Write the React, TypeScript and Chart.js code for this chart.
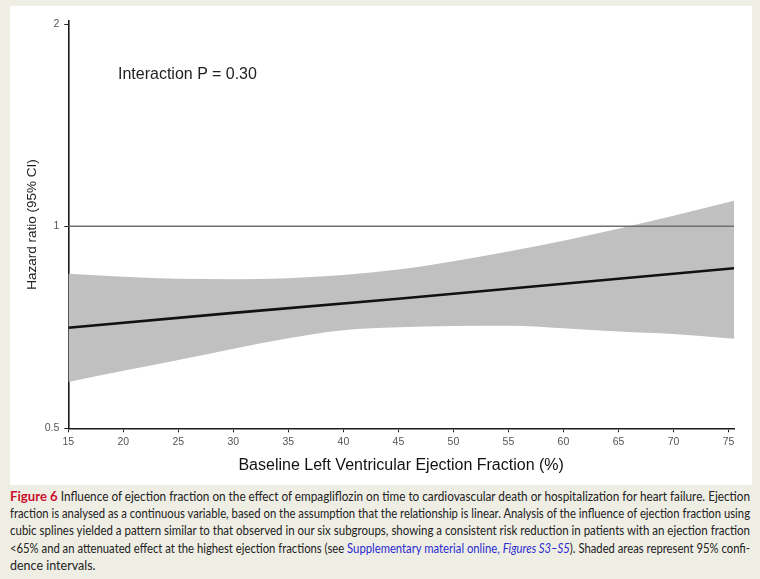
import React, { useEffect, useLayoutEffect, useRef } from 'react';
import { Chart, registerables } from 'chart.js';

Chart.register(...registerables);

// Confidence band (95% CI), hazard ratio vs baseline LVEF
const efBand = [15, 20, 25, 30, 35, 40, 45, 50, 55, 60, 65, 70, 75.5];
const upperCI = [0.850, 0.841, 0.835, 0.834, 0.837, 0.846, 0.862, 0.887, 0.917, 0.952, 0.992, 1.037, 1.092];
const lowerCI = [0.586, 0.609, 0.632, 0.657, 0.681, 0.700, 0.707, 0.710, 0.711, 0.705, 0.697, 0.691, 0.680];

// Estimated hazard ratio line
const efLine = [15, 30, 45, 60, 75.5];
const hazardRatio = [0.706, 0.743, 0.780, 0.821, 0.866];

// Reference line at HR = 1
const refX = [15, 75.5];
const refY = [1, 1];

const xTickValues = [15, 20, 25, 30, 35, 40, 45, 50, 55, 60, 65, 70, 75];
const yTickValues = [0.5, 1, 2];

const xTitle = 'Baseline Left Ventricular Ejection Fraction (%)';
const yTitle = 'Hazard ratio (95% CI)';
const annotation = 'Interaction P = 0.30';

const CAP_W = 740;

function HazardChart() {
  const ref = useRef<HTMLCanvasElement>(null);
  useEffect(() => {
    const canvas = ref.current;
    if (!canvas) return;
    const pts = (xs: number[], ys: number[]) => xs.map((x, i) => ({ x, y: ys[i] }));
    const chart = new Chart(canvas, {
      type: 'line',
      data: {
        datasets: [
          {
            label: 'HR',
            data: pts(efLine, hazardRatio),
            borderColor: '#111111',
            borderWidth: 2.6,
            pointRadius: 0,
            fill: false,
            tension: 0,
          },
          {
            label: 'ref',
            data: pts(refX, refY),
            borderColor: '#6f6f6f',
            borderWidth: 1.4,
            pointRadius: 0,
            fill: false,
          },
          {
            label: 'upper',
            data: pts(efBand, upperCI),
            borderColor: 'rgba(0,0,0,0)',
            borderWidth: 0,
            backgroundColor: '#c0c0c0',
            pointRadius: 0,
            fill: '+1',
            cubicInterpolationMode: 'monotone',
          },
          {
            label: 'lower',
            data: pts(efBand, lowerCI),
            borderColor: 'rgba(0,0,0,0)',
            borderWidth: 0,
            pointRadius: 0,
            fill: false,
            cubicInterpolationMode: 'monotone',
          },
        ],
      } as any,
      options: {
        animation: false,
        responsive: false,
        maintainAspectRatio: false,
        layout: { padding: { top: 14.7, right: 18, left: 0, bottom: 0 } },
        plugins: { legend: { display: false }, tooltip: { enabled: false } },
        scales: {
          x: {
            type: 'linear',
            min: 15,
            max: 75.5,
            afterBuildTicks: (s: any) => {
              s.ticks = xTickValues.map((v) => ({ value: v }));
            },
            afterFit: (s: any) => {
              s.height = 56.7;
            },
            grid: { drawOnChartArea: false, drawTicks: true, tickLength: 4, color: '#222', lineWidth: 1 },
            border: { display: true, color: '#1a1a1a', width: 1.6 },
            ticks: {
              font: { family: 'Liberation Sans', size: 10.5 },
              color: '#555',
              padding: 4,
              maxRotation: 0,
              autoSkip: false,
              callback: (v: any) => String(v),
            },
            title: {
              display: true,
              text: xTitle,
              font: { family: 'Liberation Sans', size: 16 },
              color: '#111',
              padding: { top: 0, bottom: 9.5 },
            },
          },
          y: {
            type: 'logarithmic',
            min: 0.5,
            max: 2.025,
            afterBuildTicks: (s: any) => {
              s.ticks = yTickValues.map((v) => ({ value: v }));
            },
            afterFit: (s: any) => {
              s.width = 58.3;
            },
            grid: { drawOnChartArea: false, drawTicks: true, tickLength: 4, color: '#222', lineWidth: 1 },
            border: { display: true, color: '#1a1a1a', width: 1.6 },
            ticks: {
              font: { family: 'Liberation Sans', size: 10.5 },
              color: '#555',
              padding: 5,
              autoSkip: false,
              callback: (v: any) => String(v),
            },
            title: {
              display: true,
              text: yTitle,
              font: { family: 'Liberation Sans', size: 13.5 },
              color: '#222',
              padding: { top: 14, bottom: 0 },
            },
          },
        },
      } as any,
    });
    return () => chart.destroy();
  }, []);
  return <canvas ref={ref} width={742} height={479} style={{ width: 742, height: 479, display: 'block' }} />;
}

function CaptionLine({ children, full }: { children: React.ReactNode; full: boolean }) {
  const ref = useRef<HTMLSpanElement>(null);
  useLayoutEffect(() => {
    const el = ref.current;
    if (!el || !full) return;
    el.style.transform = 'none';
    const w = el.getBoundingClientRect().width;
    if (w > 0) el.style.transform = `scaleX(${CAP_W / w})`;
  }, [full]);
  return (
    <div style={{ height: 17.5, lineHeight: '17.5px', whiteSpace: 'nowrap' }}>
      <span ref={ref} style={{ display: 'inline-block', transformOrigin: '0 0' }}>
        {children}
      </span>
    </div>
  );
}

const blue = '#2b2bd0';

export default function App() {
  return (
    <div
      style={{
        position: 'fixed',
        left: 0,
        top: 0,
        width: 760,
        height: 579,
        background: '#efeee5',
        overflow: 'hidden',
      }}
    >
      <div style={{ position: 'absolute', left: 10, top: 6, width: 742, height: 479, background: '#ffffff' }}>
        <HazardChart />
        <div
          style={{
            position: 'absolute',
            left: 108,
            top: 59,
            lineHeight: '18px',
            fontFamily: '"Liberation Sans", Arial, sans-serif',
            fontSize: 16,
            color: '#222',
            whiteSpace: 'nowrap',
          }}
        >
          {annotation}
        </div>
      </div>
      <div
        style={{
          position: 'absolute',
          left: 10,
          top: 487,
          width: CAP_W,
          fontFamily: 'Lato, "Open Sans", sans-serif',
          fontSize: 12.5,
          color: '#222',
        }}
      >
        <CaptionLine full>
          <span style={{ color: '#c8102e', fontWeight: 700, fontSize: 14 }}>Figure 6</span> Influence of ejection
          fraction on the effect of empagliflozin on time to cardiovascular death or hospitalization for heart failure.
          Ejection
        </CaptionLine>
        <CaptionLine full>
          fraction is analysed as a continuous variable, based on the assumption that the relationship is linear.
          Analysis of the influence of ejection fraction using
        </CaptionLine>
        <CaptionLine full>
          cubic splines yielded a pattern similar to that observed in our six subgroups, showing a consistent risk
          reduction in patients with an ejection fraction
        </CaptionLine>
        <CaptionLine full>
          {'<65% and an attenuated effect at the highest ejection fractions (see '}
          <span style={{ color: blue }}>
            Supplementary material online, <i>Figures S3–S5</i>
          </span>
          ). Shaded areas represent 95% confi-
        </CaptionLine>
        <CaptionLine full={false}>dence intervals.</CaptionLine>
      </div>
    </div>
  );
}
